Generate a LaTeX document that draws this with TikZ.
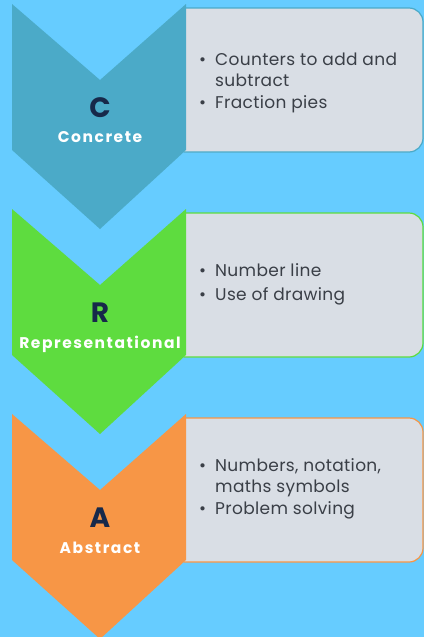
\documentclass[tikz,border=0pt]{standalone}
\usepackage{fontspec}
\setmainfont{Poppins}
\newfontfamily\stagefont[LetterSpace=10]{Poppins}
\newfontfamily\pointfont[LetterSpace=2]{Poppins}
\definecolor{sky}{HTML}{66CCFF}
\definecolor{cteal}{HTML}{4BAAC8}
\definecolor{cgreen}{HTML}{5EDC3F}
\definecolor{corange}{HTML}{F79646}
\definecolor{panel}{HTML}{D9DEE5}
\definecolor{navy}{HTML}{17294A}
\definecolor{ink}{HTML}{3A3F47}
\tikzset{
  chev/.style={fill=#1},
  panelbox/.style={fill=panel, draw=#1, line width=1.2pt, rounded corners=14pt},
  initial/.style={text=navy, font=\bfseries\fontsize{28}{30}\selectfont, anchor=base, inner sep=0pt},
  stage/.style={text=white, font=\stagefont\bfseries\fontsize{15.5}{17}\selectfont, anchor=base, inner sep=0pt},
  points/.style={text=ink, font=\pointfont\fontsize{17}{21.5}\selectfont, anchor=base west, inner sep=0pt}
}
% one step: chevron with its panel; #1 top edge, #2 colour
\newcommand\crastep[2]{%
  \begin{scope}
    \clip (184,0) rectangle (430,637);
    \draw[panelbox=#2] (150,#1+4) rectangle (423,#1+148);
  \end{scope}
  \fill[chev=#2] (12,#1) -- (100,#1+76) -- (186,#1) -- (186,#1+146)
    -- (100,#1+225) -- (12,#1+146) -- cycle;
}
\begin{document}
\begin{tikzpicture}[x=1pt,y=-1pt]
\fill[sky] (0,0) rectangle (424,637);
\useasboundingbox (0,0) rectangle (424,637);

\crastep{4}{cteal}
\crastep{209}{cgreen}
\crastep{414}{corange}

% concrete
\node[initial] (c) at (100,117) {C};
\node[stage] (cname) at (100,142) {Concrete};
\node[points] (clist) at (199,65) {%
  \begin{tabular}[t]{@{}l@{\hspace{9pt}}l@{}}
  \textbullet & Counters to add and\\
  & subtract\\
  \textbullet & Fraction pies
  \end{tabular}};

% representational
\node[initial] (r) at (100,322) {R};
\node[stage] (rname) at (100,348) {Representational};
\node[points, font=\pointfont\fontsize{17}{24}\selectfont] (rlist) at (199,276) {%
  \begin{tabular}[t]{@{}l@{\hspace{9pt}}l@{}}
  \textbullet & Number line\\
  \textbullet & Use of drawing
  \end{tabular}};

% abstract
\node[initial] (a) at (100,527) {A};
\node[stage] (aname) at (100,553) {Abstract};
\node[points] (alist) at (199,471) {%
  \begin{tabular}[t]{@{}l@{\hspace{9pt}}l@{}}
  \textbullet & Numbers, notation,\\
  & maths symbols\\
  \textbullet & Problem solving
  \end{tabular}};
\end{tikzpicture}
\end{document}
